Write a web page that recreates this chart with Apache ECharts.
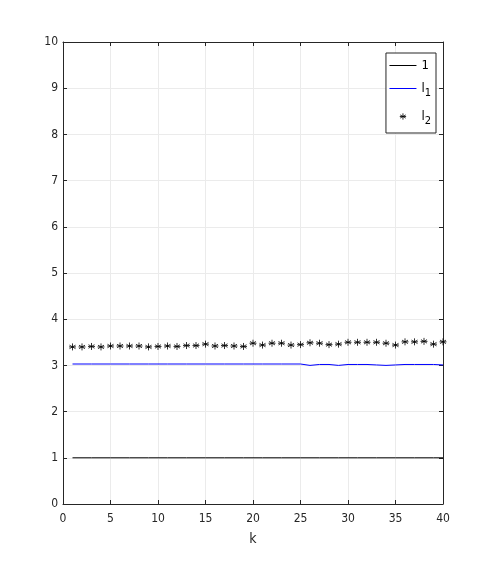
<!DOCTYPE html>
<html>
<head>
<meta charset="utf-8">
<script src="https://cdn.jsdelivr.net/npm/echarts@6/dist/echarts.min.js"></script>
<style>
html,body{margin:0;padding:0;background:#fff;}
#c{width:489px;height:567px;}
</style>
</head>
<body>
<div id="c"></div>
<script>
var kValues = [];
for (var i = 1; i <= 40; i++) kValues.push(i);
var oneSeries = [1,1,1,1,1,1,1,1,1,1,1,1,1,1,1,1,1,1,1,1,1,1,1,1,1,1,1,1,1,1,1,1,1,1,1,1,1,1,1,1];
var l1Series = [3.03,3.03,3.03,3.03,3.03,3.03,3.03,3.03,3.03,3.03,3.03,3.03,3.03,3.03,3.03,3.03,3.03,3.03,3.03,3.03,3.03,3.03,3.03,3.03,3.03,3.00,3.02,3.02,3.00,3.02,3.02,3.02,3.01,3.00,3.01,3.02,3.02,3.02,3.02,3.01];
var l2Series = [3.40,3.40,3.41,3.40,3.42,3.42,3.42,3.42,3.40,3.41,3.42,3.41,3.43,3.43,3.46,3.42,3.43,3.42,3.41,3.48,3.44,3.48,3.48,3.44,3.45,3.49,3.48,3.45,3.46,3.50,3.50,3.50,3.50,3.48,3.44,3.51,3.51,3.52,3.46,3.51];
var xTicks = [0,5,10,15,20,25,30,35,40];
var yTicks = [0,1,2,3,4,5,6,7,8,9,10];

function pairs(arr){ return arr.map(function(v,i){ return [kValues[i], v]; }); }

var FONT = "'Liberation Sans Narrow','DejaVu Sans Condensed','Liberation Sans',sans-serif";
var star = 'path://M0,-10 L0,10 M-8.66,-5 L8.66,5 M-8.66,5 L8.66,-5 M-10,0 L10,0';
var starLegend = 'path://M-11,-11 M11,11 M0,-5 L0,5 M-4.33,-2.5 L4.33,2.5 M-4.33,2.5 L4.33,-2.5 M-5,0 L5,0';

var chart = echarts.init(document.getElementById('c'), null, {renderer:'canvas'});
var axisCommon = {
  type:'value', min:0,
  axisLine:{show:true, onZero:false, lineStyle:{color:'#262626', width:1}},
  axisTick:{show:true, inside:true, length:4, lineStyle:{color:'#262626'}},
  axisLabel:{color:'#262626', fontFamily:FONT, fontSize:12},
  splitLine:{show:false}
};
chart.setOption({
  animation:false,
  backgroundColor:'#fff',
  grid:{left:63, right:46, top:42, bottom:63, containLabel:false},
  xAxis:[
    Object.assign({}, axisCommon, {max:40, interval:5, position:'bottom',
      name:'k', nameLocation:'middle', nameGap:28,
      nameTextStyle:{color:'#262626', fontFamily:FONT, fontSize:14},
      axisLabel:{color:'#262626', fontFamily:FONT, fontSize:12, margin:9,
        formatter:function(v){ return xTicks.indexOf(v)>=0 ? String(v) : ''; }},
      splitLine:{show:true, lineStyle:{color:'#ebebeb', width:1}}}),
    Object.assign({}, axisCommon, {max:40, interval:5, position:'top', axisLabel:{show:false}})
  ],
  yAxis:[
    Object.assign({}, axisCommon, {max:10, interval:1, position:'left',
      axisLabel:{color:'#262626', fontFamily:FONT, fontSize:12, margin:5,
        formatter:function(v){ return yTicks.indexOf(v)>=0 ? String(v) : ''; }},
      splitLine:{show:true, lineStyle:{color:'#ebebeb', width:1}}}),
    Object.assign({}, axisCommon, {max:10, interval:1, position:'right', axisLabel:{show:false}})
  ],
  legend:{
    orient:'vertical', right:53, top:53,
    backgroundColor:'#fff', borderColor:'#262626', borderWidth:1,
    padding:[6,5,6,3], itemGap:10, itemWidth:27, itemHeight:14,
    data:[
      {name:'1', itemStyle:{opacity:0}, lineStyle:{width:1, color:'#000'}},
      {name:'l1', itemStyle:{opacity:0}, lineStyle:{width:1, color:'#0000ff'}},
      {name:'l2', icon:starLegend, itemStyle:{color:'transparent', borderColor:'#000', borderWidth:1}}
    ],
    formatter:function(n){
      if(n==='1') return '{a|1}';
      if(n==='l1') return '{a|l}{s|1}';
      return '{a|l}{s|2}';
    },
    textStyle:{color:'#000', fontFamily:FONT,
      rich:{a:{fontSize:13, fontFamily:FONT, color:'#000', height:20}, s:{fontSize:11, fontFamily:FONT, color:'#000', padding:[10,0,0,0]}}}
  },
  series:[
    {name:'1', type:'line', data:pairs(oneSeries), showSymbol:false, symbol:'none',
      lineStyle:{color:'#000', width:1}, itemStyle:{color:'#000'}, z:3},
    {name:'l1', type:'line', data:pairs(l1Series), showSymbol:false, symbol:'none',
      lineStyle:{color:'#0000ff', width:1}, itemStyle:{color:'#0000ff'}, z:3},
    {name:'l2', type:'scatter', data:pairs(l2Series), symbol:star, symbolSize:7,
      itemStyle:{color:'transparent', borderColor:'#000', borderWidth:1}, z:4}
  ]
});
</script>
</body>
</html>
